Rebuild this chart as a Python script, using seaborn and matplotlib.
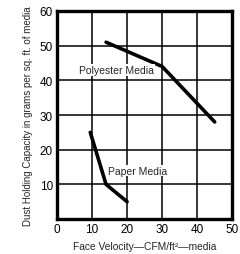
import matplotlib
matplotlib.use("Agg")
import matplotlib.pyplot as plt
import seaborn as sns
import pandas as pd

poly_x = [14, 30, 45]
poly_y = [51, 44, 28]
paper_x = [9.5, 14, 20]
paper_y = [25, 10, 5]
x_ticks = [0, 10, 20, 30, 40, 50]
y_ticks = [10, 20, 30, 40, 50, 60]

sns.set_style("white")
plt.rcParams['font.family'] = ['Liberation Sans Narrow', 'DejaVu Sans Condensed', 'Liberation Sans', 'DejaVu Sans']

df = pd.concat([
    pd.DataFrame({"x": poly_x, "y": poly_y, "media": "Polyester Media"}),
    pd.DataFrame({"x": paper_x, "y": paper_y, "media": "Paper Media"}),
])

fig = plt.figure(figsize=(2.4, 2.55), dpi=100)
ax = fig.add_axes([0.2375, 0.137, 0.73, 0.816])
sns.lineplot(data=df, x="x", y="y", units="media", estimator=None, color="black",
             linewidth=2.6, ax=ax, sort=False, legend=False, zorder=3)
ax.set_xlim(0, 50)
ax.set_ylim(0, 60)
ax.set_xticks(x_ticks)
ax.set_yticks(y_ticks)
ax.grid(True, color="black", linewidth=1.1, zorder=0)
ax.set_axisbelow(True)
for s in ax.spines.values():
    s.set_linewidth(2.4)
    s.set_color("black")
ax.tick_params(length=0, pad=3, labelsize=8.5, colors="black")
ax.set_xlabel("Face Velocity\u2014CFM/ft\u00b2\u2014media", fontsize=7.4, labelpad=4)
ax.set_ylabel("Dust Holding Capacity in grams per sq. ft. of media", fontsize=7, labelpad=5)
ax.text(17, 43, "Polyester Media", ha="center", va="center", fontsize=7.5,
        bbox=dict(facecolor="white", edgecolor="none", pad=0.5), zorder=4)
ax.text(23, 14, "Paper Media", ha="center", va="center", fontsize=7.5,
        bbox=dict(facecolor="white", edgecolor="none", pad=0.5), zorder=4)
fig.savefig("out.png", dpi=100)
